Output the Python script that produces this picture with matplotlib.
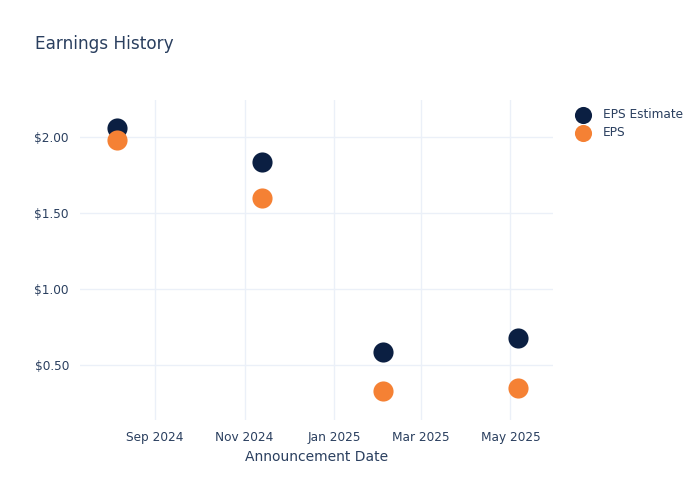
import numpy as np
import matplotlib.pyplot as plt
import matplotlib.dates as mdates

dates = np.array(['2024-08-06', '2024-11-13', '2025-02-03', '2025-05-06'], dtype='datetime64[D]')
eps_estimate = [2.06, 1.84, 0.59, 0.68]
eps_actual = [1.98, 1.60, 0.33, 0.35]
y_ticks = [0.5, 1.0, 1.5, 2.0]

txt = '#2a3f5f'
grid = '#ebf0f8'

fig = plt.figure(figsize=(7, 5), dpi=100)
ax = fig.add_axes([80/700, 80/500, 473/700, 320/500])

ax.scatter(dates, eps_estimate, s=210, color='#0b1f42', label='EPS Estimate', zorder=3, linewidths=0)
ax.scatter(dates, eps_actual, s=210, color='#f58134', label='EPS', zorder=3, linewidths=0)

ax.set_xlim(np.datetime64('2024-07-12'), np.datetime64('2025-05-30'))
ax.set_ylim(0.14, 2.245)
ax.set_yticks(y_ticks)
ax.set_yticklabels(['$%.2f' % v for v in y_ticks])
ax.xaxis.set_major_locator(mdates.MonthLocator(bymonth=[1, 3, 5, 7, 9, 11]))
ax.xaxis.set_major_formatter(mdates.DateFormatter('%b %Y'))

ax.grid(True, color=grid, linewidth=1)
ax.set_axisbelow(True)
for s in ax.spines.values():
    s.set_visible(False)
ax.tick_params(length=0, labelsize=8.7, labelcolor=txt, pad=8)
ax.set_xlabel('Announcement Date', fontsize=10, color=txt, labelpad=4)

fig.text(35/700, 1 - 44/500, 'Earnings History', fontsize=12.2, color=txt, va='center')

ax.legend(loc='upper left', bbox_to_anchor=(565/700, 1 - 102/500), bbox_transform=fig.transFigure,
          frameon=False, fontsize=8.7, labelcolor=txt, handletextpad=0.65, borderpad=0,
          labelspacing=0.4, markerscale=0.85)

plt.savefig('out.png', dpi=100)
